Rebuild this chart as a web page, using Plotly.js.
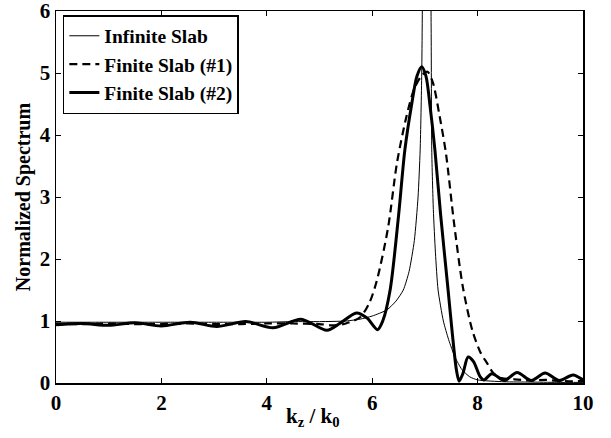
<!DOCTYPE html>
<html>
<head>
<meta charset="utf-8">
<script src="https://cdn.plot.ly/plotly-3.0.1.min.js"></script>
<style>html,body{margin:0;padding:0;background:#fff;}#chart{width:611px;height:438px;}</style>
</head>
<body>
<div id="chart"></div>
<script>
// Infinite Slab (thin line)
var xInf = [0,0.5,1,1.5,2,2.5,3,3.5,4,4.5,5,5.5,5.77,6.0,6.28,6.45,6.59,6.7,6.8,6.87,6.91,6.94,6.96,7.0,7.05,7.1,7.11,7.12,7.13,7.16,7.2,7.25,7.35,7.45,7.57,7.7,7.85,8.0,8.5,9.0,9.5,10];
var yInf = [0.98,0.98,0.98,0.98,0.98,0.98,0.98,0.98,0.98,0.99,0.99,1.0,1.03,1.08,1.18,1.32,1.5,1.8,2.3,3.0,3.76,5.0,7.0,12,14,10,7.0,5.5,3.76,2.8,2.1,1.5,1.0,0.7,0.42,0.22,0.1,0.05,0.02,0.015,0.01,0.01];

// Finite Slab (#1) (dashed)
var xF1 = [0,0.5,1,1.5,2,2.5,3,3.5,4,4.5,5,5.25,5.5,5.77,5.95,6.09,6.3,6.47,6.65,6.8,6.95,7.05,7.15,7.28,7.4,7.55,7.72,7.9,8.05,8.18,8.3,8.45,8.7,9.0,9.3,9.6,10];
var yF1 = [0.95,0.95,0.96,0.95,0.95,0.96,0.95,0.95,0.96,0.96,0.95,0.93,0.96,1.06,1.3,1.66,2.5,3.55,4.3,4.75,4.97,5.02,4.85,4.3,3.7,2.6,1.55,0.85,0.5,0.32,0.16,0.08,0.06,0.04,0.05,0.03,0.03];

// Finite Slab (#2) (thick line)
var xF2 = [0,0.5,1,1.5,2,2.55,3.05,3.6,4.12,4.65,5.14,5.4,5.7,5.9,6.1,6.2,6.34,6.5,6.62,6.75,6.85,6.94,7.02,7.1,7.19,7.3,7.44,7.52,7.6,7.65,7.72,7.82,7.92,8.05,8.12,8.27,8.45,8.52,8.75,9.02,9.28,9.55,9.81,10];
var yF2 = [0.94,0.96,0.93,0.97,0.92,0.98,0.91,0.99,0.89,1.03,0.85,0.97,1.13,1.05,0.86,1.0,1.5,2.7,3.76,4.5,4.95,5.1,4.95,4.45,3.76,2.7,1.5,0.8,0.2,0.03,0.15,0.42,0.35,0.1,0.05,0.15,0.06,0.04,0.17,0.04,0.16,0.04,0.13,0.05];

var xTicks = [0,2,4,6,8,10];
var yTicks = [0,1,2,3,4,5,6];
var xTitle = "<b>k<sub>z</sub> / k<sub>0</sub></b>";
var yTitle = "<b>Normalized Spectrum</b>";

var FONT = "Liberation Serif, Times New Roman, serif";

var traces = [
  {x: xInf, y: yInf, name: "<b>Infinite Slab</b>", type: "scatter", mode: "lines",
   line: {color: "#000", width: 1, shape: "spline", smoothing: 0.6}},
  {x: xF1, y: yF1, name: "<b>Finite Slab (#1)</b>", type: "scatter", mode: "lines",
   line: {color: "#000", width: 2.2, dash: "8px,5px", shape: "spline", smoothing: 0.8}},
  {x: xF2, y: yF2, name: "<b>Finite Slab (#2)</b>", type: "scatter", mode: "lines",
   line: {color: "#000", width: 3, shape: "spline", smoothing: 0.8}}
];

var axisCommon = {
  showline: true, linecolor: "#000", linewidth: 1.5, mirror: "ticks",
  ticks: "inside", ticklen: 5, tickwidth: 1, tickcolor: "#000",
  showgrid: false, zeroline: false, ticklabeloverflow: "allow",
  tickfont: {family: FONT, size: 21, color: "#000", weight: "bold"}
};

var layout = {
  width: 611, height: 438,
  margin: {l: 56, r: 28, t: 11, b: 55},
  paper_bgcolor: "#fff", plot_bgcolor: "#fff",
  font: {family: FONT, color: "#000"},
  showlegend: true,
  legend: {x: 0.013, y: 0.989, xanchor: "left", yanchor: "top",
    bgcolor: "#fff", bordercolor: "#000", borderwidth: 1.5,
    font: {family: FONT, size: 19.5, color: "#000"},
    tracegroupgap: 0, itemwidth: 30},
  xaxis: Object.assign({}, axisCommon, {
    range: [0, 10], tickvals: xTicks, ticktext: xTicks.map(String),
    ticklabelstandoff: 0
  }),
  yaxis: Object.assign({}, axisCommon, {
    range: [0, 6], tickvals: yTicks, ticktext: yTicks.map(String),
    title: {text: yTitle, font: {family: FONT, size: 20, color: "#000"}, standoff: 4}
  }),
  annotations: [
    {text: xTitle, xref: "paper", yref: "paper", x: 0.487, y: -0.092,
     xanchor: "center", yanchor: "middle", showarrow: false,
     font: {family: FONT, size: 21, color: "#000"}}
  ]
};

Plotly.newPlot("chart", traces, layout, {staticPlot: true, displayModeBar: false});
</script>
</body>
</html>
